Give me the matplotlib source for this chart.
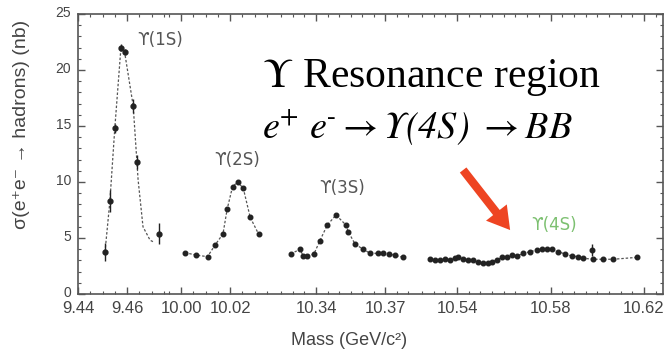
import numpy as np
import matplotlib
matplotlib.use("Agg")
import matplotlib.pyplot as plt
from matplotlib.ticker import FixedLocator, MultipleLocator, FormatStrFormatter
from matplotlib.transforms import ScaledTranslation

plt.rcParams["font.family"] = ["Liberation Sans", "DejaVu Sans"]
plt.rcParams["mathtext.fontset"] = "stix"

# === DATA (mass in GeV, cross section in nb) ===
mass_1s = [9.451, 9.453, 9.455, 9.4575, 9.459, 9.4625, 9.464, 9.473]
sigma_1s = [3.75, 8.3, 14.8, 22.0, 21.6, 16.8, 11.8, 5.4]
err_1s = [0.8, 1.0, 0.4, 0.3, 0.3, 0.6, 0.6, 0.9]

fit_1s_mass = [9.451, 9.453, 9.455, 9.4575, 9.459, 9.4625, 9.4645, 9.4665, 9.4694, 9.4706]
fit_1s_sigma = [3.75, 8.3, 14.8, 22.0, 21.6, 16.8, 10.2, 6.0, 4.8, 4.67]

mass_2s = [10.0016, 10.0061, 10.0108, 10.0139, 10.0171, 10.0188, 10.0210,
           10.0231, 10.0254, 10.0282, 10.0316]
sigma_2s = [3.69, 3.48, 3.33, 4.38, 5.36, 7.56, 9.58, 10.0, 9.43, 6.85, 5.36]

mass_3s = [10.329, 10.333, 10.3345, 10.3362, 10.3391, 10.3417, 10.3449, 10.3487,
           10.353, 10.354, 10.357, 10.3606, 10.3635, 10.3671, 10.369, 10.3719,
           10.3743, 10.378]
sigma_3s = [3.57, 3.99, 3.39, 3.39, 3.57, 4.76, 6.16, 7.05, 6.16, 5.57, 4.44,
            3.99, 3.63, 3.63, 3.63, 3.57, 3.45, 3.27]

mass_4s = [10.5284, 10.5306, 10.5327, 10.5349, 10.537, 10.5391, 10.5406, 10.5427,
           10.5448, 10.547, 10.5491, 10.5513, 10.5534, 10.5548, 10.557, 10.5591,
           10.5613, 10.5634, 10.5655, 10.5684, 10.5712, 10.5741, 10.5762, 10.5784,
           10.5805, 10.5833, 10.5862, 10.5891, 10.5919, 10.594, 10.5983, 10.6026,
           10.6068, 10.6169]
sigma_4s = [3.10, 3.04, 3.04, 3.10, 3.04, 3.19, 3.27, 3.10, 3.04, 3.04, 2.89,
            2.74, 2.80, 2.89, 3.04, 3.27, 3.33, 3.48, 3.39, 3.63, 3.78, 3.93,
            3.99, 4.05, 3.99, 3.78, 3.57, 3.39, 3.33, 3.19, 3.10, 3.10, 3.10, 3.27]
mass_4s_extra = [10.5976]
sigma_4s_extra = [3.93]
err_4s_extra = [0.5]

major_ticks = [9.44, 9.46, 10.00, 10.02, 10.34, 10.37, 10.54, 10.58, 10.62]

# === BROKEN MASS AXIS ===
# four mass windows glued side by side
MASS_KNOTS = [9.44, 9.4767, 9.9947, 10.0371, 10.3209, 10.3843, 10.5233, 10.6281]
POS_KNOTS = [0, 90, 90.01, 194, 194.01, 340, 340.01, 585]


def fwd(m):
    return np.interp(m, MASS_KNOTS, POS_KNOTS)


def inv(u):
    return np.interp(u, POS_KNOTS, MASS_KNOTS)


fig = plt.figure(figsize=(6.68, 3.52), dpi=100)
ax = fig.add_axes([0.1168, 0.1648, 0.8757, 0.7954])
ax.set_xscale("function", functions=(fwd, inv))
ax.set_xlim(MASS_KNOTS[0], MASS_KNOTS[-1])
ax.set_ylim(0, 25)

dark = "#222222"
fitc = "#555555"

# fit curves (dashed)
ax.plot(fit_1s_mass, fit_1s_sigma, ls=(0, (2, 1.5)), lw=0.9, color=fitc)
for m, s in [(mass_2s, sigma_2s), (mass_3s, sigma_3s), (mass_4s, sigma_4s)]:
    ax.plot(m, s, ls=(0, (2, 1.5)), lw=0.9, color=fitc)

# data points
ax.errorbar(mass_1s, sigma_1s, yerr=err_1s, fmt="o", ms=3.5, color=dark,
            elinewidth=1.0, capsize=0)
for m, s in [(mass_2s, sigma_2s), (mass_3s, sigma_3s), (mass_4s, sigma_4s)]:
    ax.plot(m, s, "o", ms=3.3, color=dark)
ax.errorbar(mass_4s_extra, sigma_4s_extra, yerr=err_4s_extra, fmt="o", ms=3.3,
            color=dark, elinewidth=1.0, capsize=0)

# ticks
minor = np.concatenate([
    np.arange(9.44, 9.476, 0.005),
    np.arange(9.995, 10.036, 0.005),
    np.arange(10.325, 10.384, 0.005),
    np.arange(10.525, 10.626, 0.005),
])
ax.xaxis.set_major_locator(FixedLocator(major_ticks))
ax.xaxis.set_minor_locator(FixedLocator(minor))
ax.xaxis.set_major_formatter(FormatStrFormatter("%.2f"))
ax.yaxis.set_major_locator(MultipleLocator(5))
ax.yaxis.set_minor_locator(MultipleLocator(1))
ax.tick_params(which="both", direction="in", top=True, right=True, color="#555555")
ax.tick_params(which="major", length=5, width=1)
ax.tick_params(which="minor", length=2.5, width=0.8)
ax.tick_params(axis="x", labelsize=12, labelcolor="#444444", pad=5)
ax.tick_params(axis="y", labelsize=10, labelcolor="#444444", pad=5)
for sp in ax.spines.values():
    sp.set_color("#555555")
    sp.set_linewidth(1.2)

# nudge y tick labels up a little so "0" clears "9.44"
lift = ScaledTranslation(0, 2 / 72, fig.dpi_scale_trans)
for t in ax.get_yticklabels():
    t.set_transform(t.get_transform() + lift)

ax.set_xlabel("Mass (GeV/c²)", fontsize=13, color="#444444")
ax.xaxis.set_label_coords(0.463, -0.135)
ax.set_ylabel("σ(e⁺e⁻ → hadrons) (nb)", fontsize=14, color="#444444")
ax.yaxis.set_label_coords(-0.082, 0.607)

# resonance labels
lbl = dict(fontsize=12, ha="center", va="center", family=["DejaVu Sans"])
ax.text(9.4735, 22.7, "ϒ(1S)", color="#555555", **lbl)
ax.text(10.0229, 11.96, "ϒ(2S)", color="#555555", **lbl)
ax.text(10.3513, 9.46, "ϒ(3S)", color="#555555", **lbl)
ax.text(10.5815, 6.16, "ϒ(4S)", color="#7cc070", **lbl)

ax.annotate("", xy=(10.5627, 5.71), xytext=(10.5426, 11.07),
            arrowprops=dict(arrowstyle="simple,head_length=1.6,head_width=1.9,tail_width=0.6",
                            color="#ee4422", lw=0, shrinkA=0, shrinkB=0),
            annotation_clip=False)

# headline
fig.text(262 / 668, 1 - 87 / 352, r"$\Upsilon$ Resonance region", fontsize=30,
         family="Liberation Serif", va="baseline", ha="left", color="black")
fig.text(262 / 668, 1 - 138 / 352,
         r"e$^{+}$ e$^{\text{-}}$$\rightarrow$Υ(4S) $\rightarrow$BB",
         fontsize=27.5, family="STIXGeneral", style="italic",
         va="baseline", ha="left", color="black")

fig.savefig("out.png", dpi=100)
